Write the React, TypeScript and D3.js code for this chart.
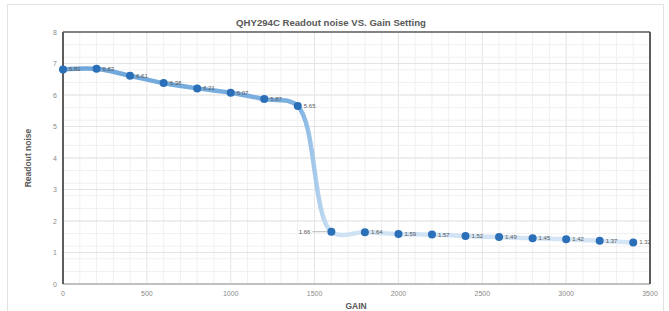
import React from 'react';
import * as d3 from 'd3';

const gains = [0, 200, 400, 600, 800, 1000, 1200, 1400, 1600, 1800, 2000, 2200, 2400, 2600, 2800, 3000, 3200, 3400];
const noise = [6.81, 6.83, 6.61, 6.38, 6.21, 6.07, 5.87, 5.65, 1.66, 1.64, 1.59, 1.57, 1.52, 1.49, 1.45, 1.42, 1.37, 1.32];
const xTicks = [0, 500, 1000, 1500, 2000, 2500, 3000, 3500];
const yTicks = [0, 1, 2, 3, 4, 5, 6, 7, 8];

const W = 669;
const H = 311;
const m = { left: 63, right: 650, top: 32, bottom: 284 };
const font = '"Liberation Sans", Arial, sans-serif';

export default function App() {
  const x = d3.scaleLinear().domain([0, 3500]).range([m.left, m.right]);
  const y = d3.scaleLinear().domain([0, 8]).range([m.bottom, m.top]);

  const pts: [number, number][] = gains.map((g, i) => [x(g), y(noise[i])]);
  const line = d3.line().curve(d3.curveCatmullRom.alpha(0.5))(pts) || '';

  // minor grid
  const vMinor = d3.range(0, 3501, 100);
  const hMinor = d3.range(0, 8.01, 0.4);

  const dropA = (x(1400) - m.left) / (m.right - m.left);
  const dropB = (x(1600) - m.left) / (m.right - m.left);

  return (
    <svg width={W} height={H} style={{ position: 'absolute', left: 0, top: 0, background: '#fff' }}>
      <defs>
        <linearGradient id="lg" gradientUnits="userSpaceOnUse" x1={m.left} x2={m.right} y1={0} y2={0}>
          <stop offset="0" stopColor="#6fa6da" />
          <stop offset={dropA} stopColor="#7cb0e0" />
          <stop offset={dropB} stopColor="#cfe2f4" />
          <stop offset="1" stopColor="#d6e6f5" />
        </linearGradient>
      </defs>
      <rect x={7.5} y={4.5} width={656} height={330} fill="#fff" stroke="#e2e2e2" />
      <text x={331} y={26} textAnchor="middle" fontFamily={font} fontSize={9.6} fontWeight="bold" fill="#595959">
        QHY294C Readout noise VS. Gain Setting
      </text>

      {vMinor.map(v => (
        <line key={'v' + v} x1={x(v)} x2={x(v)} y1={m.top} y2={m.bottom}
          stroke={v % 500 === 0 ? '#e4e4e4' : '#f0f0f0'} strokeWidth={1} />
      ))}
      {hMinor.map(v => (
        <line key={'h' + v} x1={m.left} x2={m.right} y1={y(v)} y2={y(v)} stroke="#f0f0f0" strokeWidth={1} />
      ))}
      {yTicks.map(v => (
        <line key={'hm' + v} x1={m.left} x2={m.right} y1={y(v)} y2={y(v)} stroke="#e4e4e4" strokeWidth={1} />
      ))}

      <line x1={m.left} x2={m.right} y1={m.bottom} y2={m.bottom} stroke="#b0b0b0" strokeWidth={1.5} />
      <line x1={m.left} x2={m.right} y1={m.top} y2={m.top} stroke="#5e5e5e" strokeWidth={1.5} />
      <line x1={m.left} x2={m.left} y1={m.top} y2={m.bottom} stroke="#5e5e5e" strokeWidth={2} />
      <line x1={m.right} x2={m.right} y1={m.top} y2={m.bottom} stroke="#5e5e5e" strokeWidth={2} />

      {yTicks.map(v => (
        <text key={'yt' + v} x={57} y={y(v) + 2.5} textAnchor="end" fontFamily={font} fontSize={7} fill="#8a8a8a">{v}</text>
      ))}
      {xTicks.map(v => (
        <text key={'xt' + v} x={x(v)} y={296} textAnchor="middle" fontFamily={font} fontSize={7} fill="#8a8a8a">{v}</text>
      ))}

      <text transform="translate(31,158) rotate(-90)" textAnchor="middle" fontFamily={font} fontSize={8.5} fontWeight="bold" fill="#595959">
        Readout noise
      </text>
      <text x={356} y={309} textAnchor="middle" fontFamily={font} fontSize={8.5} fontWeight="bold" fill="#595959">GAIN</text>

      <path d={line} fill="none" stroke="url(#lg)" strokeWidth={4.5} strokeLinecap="round" />

      {pts.map(([px, py], i) => (
        <circle key={'c' + i} cx={px} cy={py} r={4} fill="#2a6fb8" />
      ))}
      {pts.map(([px, py], i) => gains[i] === 1600 ? (
        <g key={'l' + i}>
          <line x1={px - 19} x2={px - 4} y1={py} y2={py} stroke="#a6a6a6" strokeWidth={0.8} />
          <text x={px - 21} y={py + 2} textAnchor="end" fontFamily={font} fontSize={6} fill="#595959">{noise[i].toFixed(2)}</text>
        </g>
      ) : (
        <text key={'l' + i} x={px + 6} y={py + 2} fontFamily={font} fontSize={6} fill="#595959">{noise[i].toFixed(2)}</text>
      ))}
    </svg>
  );
}
